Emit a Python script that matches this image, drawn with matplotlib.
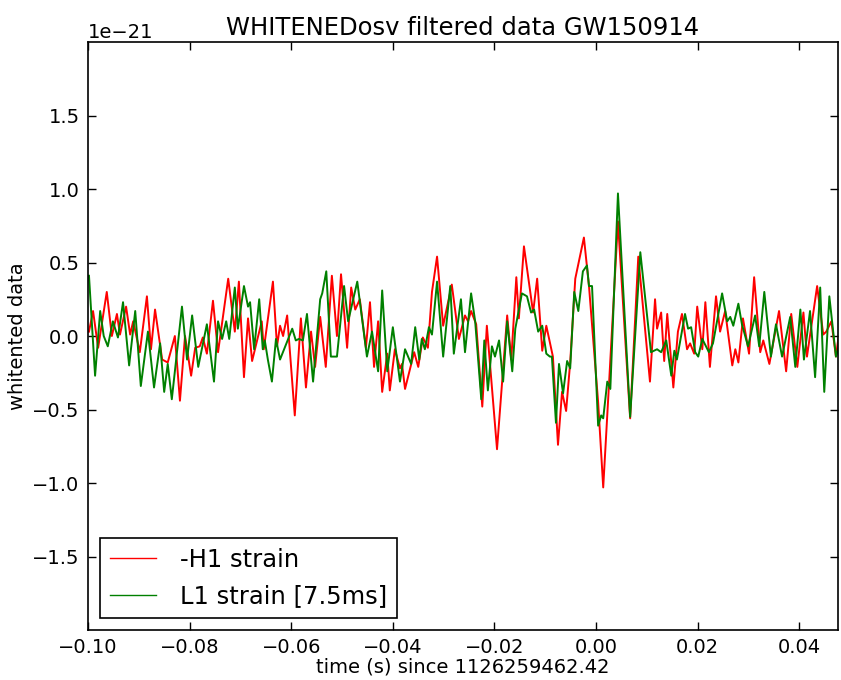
import numpy as np
import matplotlib
matplotlib.use('Agg')
import matplotlib.pyplot as plt

# -H1 strain (time in s since 1126259462.42, strain in 1e-21)
t_h1 = [-0.0998, -0.0990, -0.0980, -0.0963, -0.0953, -0.0943, -0.0937, -0.0925,
        -0.0917, -0.0911, -0.0898, -0.0884, -0.0876, -0.0868, -0.0854, -0.0843,
        -0.0829, -0.0819, -0.0809, -0.0797, -0.0789, -0.0780, -0.0774, -0.0766,
        -0.0754, -0.0744, -0.0724, -0.0711, -0.0703, -0.0693, -0.0685, -0.0677,
        -0.0658, -0.0654, -0.0636, -0.0628, -0.0622, -0.0616, -0.0608, -0.0593,
        -0.0581, -0.0571, -0.0561, -0.0553, -0.0543, -0.0532, -0.0520, -0.0510,
        -0.0502, -0.0490, -0.0482, -0.0474, -0.0465, -0.0453, -0.0445, -0.0437,
        -0.0429, -0.0421, -0.0411, -0.0406, -0.0396, -0.0386, -0.0382, -0.0376,
        -0.0358, -0.0350, -0.0341, -0.0331, -0.0323, -0.0313, -0.0301, -0.0284,
        -0.0270, -0.0258, -0.0252, -0.0246, -0.0236, -0.0224, -0.0215, -0.0195,
        -0.0175, -0.0167, -0.0157, -0.0152, -0.0142, -0.0124, -0.0116, -0.0106,
        -0.0098, -0.0085, -0.0075, -0.0067, -0.0059, -0.0051, -0.0041, -0.0024,
        -0.0014, 0.0004, 0.0014, 0.0026, 0.0043, 0.0067, 0.0083, 0.0106,
        0.0116, 0.0120, 0.0128, 0.0134, 0.0140, 0.0152, 0.0161, 0.0169,
        0.0179, 0.0185, 0.0193, 0.0199, 0.0209, 0.0215, 0.0224, 0.0236,
        0.0244, 0.0254, 0.0268, 0.0274, 0.0280, 0.0289, 0.0301, 0.0311,
        0.0323, 0.0329, 0.0341, 0.0360, 0.0374, 0.0384, 0.0396, 0.0408,
        0.0415, 0.0435, 0.0447, 0.0453, 0.0463, 0.0472, 0.0480]
h1 = [0.03, 0.17, -0.08, 0.30, 0.00, 0.15, 0.01, 0.20,
      0.01, 0.10, -0.11, 0.27, -0.09, 0.18, -0.16, -0.18,
      0.00, -0.44, 0.00, -0.27, -0.08, -0.07, -0.01, -0.12,
      0.24, -0.11, 0.39, 0.03, 0.37, -0.28, 0.12, -0.17,
      0.10, -0.09, 0.37, -0.07, 0.07, 0.00, 0.14, -0.54,
      0.12, -0.35, 0.03, -0.21, 0.13, -0.21, 0.41, 0.00,
      0.42, -0.08, 0.33, 0.18, 0.25, -0.08, 0.23, -0.21,
      0.10, -0.38, -0.12, -0.37, -0.09, -0.22, -0.19, -0.36,
      -0.11, -0.21, -0.01, -0.08, 0.30, 0.54, 0.07, 0.35,
      -0.02, 0.14, 0.10, 0.17, 0.08, -0.48, 0.07, -0.77,
      0.14, -0.16, 0.40, 0.12, 0.61, 0.16, 0.39, -0.10,
      0.07, -0.14, -0.74, -0.38, -0.51, -0.18, 0.39, 0.67,
      0.34, -0.45, -1.03, -0.29, 0.78, -0.56, 0.54, -0.31,
      0.25, 0.05, 0.16, -0.17, 0.15, -0.35, 0.03, 0.15,
      -0.09, -0.05, -0.12, 0.20, -0.09, 0.23, -0.21, 0.27,
      0.03, 0.17, -0.20, -0.09, -0.18, 0.12, -0.12, 0.40,
      -0.11, -0.03, -0.19, 0.17, -0.24, 0.15, -0.21, 0.16,
      -0.14, 0.34, 0.01, 0.03, 0.10, -0.14, 0.07]

# L1 strain shifted by 7.5 ms
t_l1 = [-0.0998, -0.0986, -0.0976, -0.0969, -0.0961, -0.0951, -0.0941, -0.0931,
        -0.0919, -0.0907, -0.0896, -0.0882, -0.0870, -0.0858, -0.0850, -0.0843,
        -0.0835, -0.0815, -0.0805, -0.0795, -0.0783, -0.0766, -0.0752, -0.0744,
        -0.0736, -0.0728, -0.0722, -0.0711, -0.0705, -0.0693, -0.0685, -0.0681,
        -0.0673, -0.0663, -0.0656, -0.0652, -0.0646, -0.0638, -0.0630, -0.0622,
        -0.0598, -0.0591, -0.0585, -0.0577, -0.0569, -0.0557, -0.0543, -0.0539,
        -0.0531, -0.0522, -0.0510, -0.0496, -0.0488, -0.0470, -0.0451, -0.0441,
        -0.0429, -0.0421, -0.0411, -0.0400, -0.0386, -0.0376, -0.0364, -0.0356,
        -0.0348, -0.0343, -0.0337, -0.0329, -0.0323, -0.0313, -0.0301, -0.0287,
        -0.0280, -0.0266, -0.0258, -0.0246, -0.0238, -0.0226, -0.0220, -0.0213,
        -0.0205, -0.0199, -0.0191, -0.0183, -0.0175, -0.0165, -0.0159, -0.0146,
        -0.0136, -0.0128, -0.0122, -0.0114, -0.0106, -0.0098, -0.0091, -0.0087,
        -0.0079, -0.0073, -0.0065, -0.0057, -0.0051, -0.0043, -0.0035, -0.0026,
        -0.0018, -0.0014, -0.0008, 0.0004, 0.0010, 0.0014, 0.0022, 0.0028,
        0.0043, 0.0067, 0.0087, 0.0108, 0.0120, 0.0128, 0.0138, 0.0148,
        0.0154, 0.0159, 0.0175, 0.0181, 0.0187, 0.0195, 0.0201, 0.0209,
        0.0222, 0.0230, 0.0248, 0.0258, 0.0264, 0.0270, 0.0280, 0.0287,
        0.0299, 0.0313, 0.0321, 0.0331, 0.0344, 0.0354, 0.0366, 0.0382,
        0.0392, 0.0402, 0.0409, 0.0421, 0.0431, 0.0441, 0.0449, 0.0459,
        0.0472, 0.0480]
l1 = [0.41, -0.27, 0.17, 0.00, -0.07, 0.10, -0.01, 0.23,
      -0.20, 0.17, -0.34, 0.03, -0.35, -0.05, -0.38, -0.19,
      -0.43, 0.20, -0.16, 0.14, -0.21, 0.08, -0.31, 0.10,
      -0.02, 0.10, -0.02, 0.33, 0.05, 0.34, 0.20, 0.23,
      -0.09, 0.25, -0.09, -0.03, -0.16, -0.31, -0.02, -0.16,
      0.05, -0.03, -0.02, -0.03, 0.15, -0.31, 0.25, 0.29,
      0.44, -0.14, -0.14, 0.34, 0.10, 0.37, -0.14, 0.03,
      -0.24, 0.31, -0.24, 0.06, -0.31, -0.09, -0.19, 0.06,
      -0.16, -0.02, -0.09, 0.06, 0.01, 0.37, -0.14, 0.34,
      -0.12, 0.25, -0.11, 0.29, 0.10, -0.43, -0.03, -0.37,
      -0.07, -0.14, -0.03, -0.31, 0.10, -0.24, 0.05, 0.29,
      0.27, 0.16, 0.18, 0.03, 0.07, -0.12, -0.14, -0.14,
      -0.59, -0.19, -0.39, -0.17, -0.22, 0.30, 0.17, 0.44,
      0.48, 0.34, 0.34, -0.61, -0.54, -0.56, -0.31, -0.36,
      0.97, -0.55, 0.57, -0.11, -0.09, -0.11, -0.03, -0.27,
      -0.10, -0.16, 0.15, 0.05, 0.06, -0.11, -0.14, -0.02,
      -0.11, -0.05, 0.29, 0.10, 0.13, 0.07, 0.22, 0.08,
      -0.07, 0.14, -0.07, 0.30, -0.14, 0.08, -0.14, 0.13,
      -0.21, 0.18, -0.16, 0.17, -0.28, 0.33, -0.38, 0.27,
      -0.14, -0.04]

plt.rcParams['font.family'] = 'DejaVu Sans'
plt.rcParams['xtick.direction'] = 'in'
plt.rcParams['ytick.direction'] = 'in'

fig = plt.figure(figsize=(8.41, 6.80), dpi=100)
ax = fig.add_axes([0.1046, 0.0735, 0.8918, 0.8647])

ax.plot(np.array(t_h1), np.array(h1) * 1e-21, 'r', lw=1.4,
        solid_joinstyle='round', label='-H1 strain')
ax.plot(np.array(t_l1), np.array(l1) * 1e-21, 'g', lw=1.4,
        solid_joinstyle='round', label='L1 strain [7.5ms]')

ax.set_xlim(-0.1, 0.0476)
ax.set_ylim(-2e-21, 2e-21)
ax.set_xticks([-0.10, -0.08, -0.06, -0.04, -0.02, 0.00, 0.02, 0.04])
ax.set_yticks(np.array([-1.5, -1.0, -0.5, 0.0, 0.5, 1.0, 1.5]) * 1e-21)
ax.tick_params(which='both', top=True, right=True, length=6, width=1,
               labelsize=14, pad=6)
ax.yaxis.get_offset_text().set_fontsize(14)
for s in ax.spines.values():
    s.set_linewidth(1.2)

ax.set_xlabel('time (s) since 1126259462.42', fontsize=14, labelpad=0)
ax.set_ylabel('whitented data', fontsize=14, labelpad=4)
ax.set_title('WHITENEDosv filtered data GW150914', fontsize=17.5, pad=5)

leg = ax.legend(loc='lower left', fontsize=17.5, fancybox=False,
                framealpha=1, borderaxespad=0.5, handlelength=1.9,
                handletextpad=1.0)
for ln in leg.get_lines():
    ln.set_linewidth(1.0)
leg.get_frame().set_edgecolor('black')
leg.get_frame().set_linewidth(1.2)

fig.savefig('out.png', dpi=100)
